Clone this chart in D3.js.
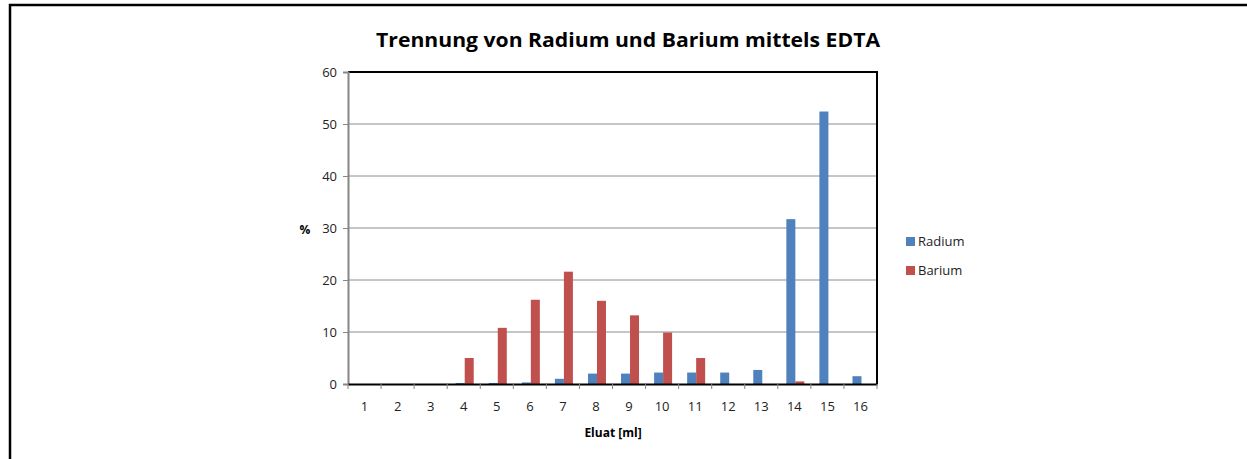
<!DOCTYPE html>
<html>
<head>
<meta charset="utf-8">
<script src="https://cdn.jsdelivr.net/npm/d3@7"></script>
<style>
  body { margin: 0; background: #fff; }
  text { font-family: "Open Sans", "DejaVu Sans", sans-serif; }
</style>
</head>
<body>
<div id="chart"></div>
<script>
// data
var categories = ["1","2","3","4","5","6","7","8","9","10","11","12","13","14","15","16"];
var radium = [0, 0, 0, 0.2, 0.2, 0.3, 1.0, 2.0, 2.0, 2.2, 2.2, 2.2, 2.7, 31.7, 52.4, 1.5];
var barium = [0, 0, 0, 5.0, 10.8, 16.2, 21.6, 16.0, 13.2, 9.9, 5.0, 0, 0, 0.5, 0, 0];
var seriesNames = ["Radium", "Barium"];
var seriesColors = ["#4F81BD", "#C0504D"];
var yTicks = [0, 10, 20, 30, 40, 50, 60];

var width = 1247, height = 459;
var plot = {left: 348, top: 72, right: 877, bottom: 384};

var svg = d3.select("#chart")
  .append("svg")
  .attr("width", width)
  .attr("height", height)

// outer frame
svg.append("rect")
  .attr("x", 10).attr("y", 5)
  .attr("width", 1240).attr("height", 470)
  .attr("fill", "none")
  .attr("stroke", "#000")
  .attr("stroke-width", 2.5)

svg.append("text")
  .attr("x", 628).attr("y", 47)
  .attr("text-anchor", "middle")
  .attr("font-size", 20)
  .attr("font-weight", "bold")
  .attr("textLength", 504)
  .attr("lengthAdjust", "spacingAndGlyphs")
  .text("Trennung von Radium und Barium mittels EDTA")

var x = d3.scaleBand()
  .domain(categories)
  .range([plot.left, plot.right])

var x1 = d3.scaleBand()
  .domain(seriesNames)
  .range([0, 18])

var y = d3.scaleLinear()
  .domain([0, 60])
  .range([plot.bottom, plot.top])

// gridlines
svg.append("g")
  .selectAll("line")
  .data(yTicks.filter(function(d){ return d > 0 && d < 60 }))
  .enter().append("line")
    .attr("x1", plot.left).attr("x2", plot.right)
    .attr("y1", function(d){ return y(d) }).attr("y2", function(d){ return y(d) })
    .attr("stroke", "#8c8c8c")
    .attr("stroke-width", 1)

// plot frame top and right
svg.append("path")
  .attr("d", "M" + plot.left + "," + plot.top + "H" + plot.right + "V" + plot.bottom)
  .attr("fill", "none")
  .attr("stroke", "#000")
  .attr("stroke-width", 2)

// bars
var data = categories.map(function(c, i){
  return {cat: c, values: [{s: "Radium", v: radium[i]}, {s: "Barium", v: barium[i]}]}
})

var groups = svg.append("g")
  .selectAll("g")
  .data(data)
  .enter().append("g")
    .attr("transform", function(d){ return "translate(" + (x(d.cat) + x.bandwidth() / 2 - 9 + 1) + ",0)" })

groups.selectAll("rect")
  .data(function(d){ return d.values })
  .enter().append("rect")
    .attr("x", function(d){ return x1(d.s) })
    .attr("width", x1.bandwidth())
    .attr("y", function(d){ return y(d.v) })
    .attr("height", function(d){ return y(0) - y(d.v) })
    .attr("fill", function(d, i){ return seriesColors[i] })

// y axis
var yAxis = svg.append("g")
  .attr("transform", "translate(" + plot.left + ",0)")
  .call(d3.axisLeft(y).tickValues(yTicks).tickSize(5).tickPadding(6))
yAxis.select(".domain").attr("stroke", "#868686").attr("stroke-width", 2)
yAxis.selectAll(".tick line").attr("stroke", "#868686")
yAxis.selectAll("text").attr("font-size", 13).attr("fill", "#222")
  .attr("font-family", "Open Sans, sans-serif")

// x axis
var xAxis = svg.append("g")
  .attr("transform", "translate(0," + plot.bottom + ")")
  .call(d3.axisBottom(x).tickSize(0).tickPadding(18))
xAxis.select(".domain").attr("stroke", "#000").attr("stroke-width", 2)
xAxis.selectAll("text").attr("font-size", 13).attr("fill", "#222")
  .attr("font-family", "Open Sans, sans-serif")

// x ticks at category boundaries
svg.append("g")
  .selectAll("line")
  .data(d3.range(categories.length + 1))
  .enter().append("line")
    .attr("x1", function(i){ return plot.left + i * x.step() })
    .attr("x2", function(i){ return plot.left + i * x.step() })
    .attr("y1", plot.bottom).attr("y2", plot.bottom + 5)
    .attr("stroke", "#868686")

svg.append("text")
  .attr("x", 613).attr("y", 437)
  .attr("text-anchor", "middle")
  .attr("font-size", 12)
  .attr("font-weight", "bold")
  .text("Eluat [ml]")

svg.append("text")
  .attr("x", 305).attr("y", 234)
  .attr("text-anchor", "middle")
  .attr("font-size", 12)
  .attr("font-weight", "bold")
  .text("%")

// legend
var legend = svg.append("g")
  .selectAll("g")
  .data(seriesNames)
  .enter().append("g")
    .attr("transform", function(d, i){ return "translate(906," + (237 + i * 29) + ")" })

legend.append("rect")
  .attr("width", 9).attr("height", 9)
  .attr("fill", function(d, i){ return seriesColors[i] })

legend.append("text")
  .attr("x", 12).attr("y", 9)
  .attr("font-size", 13)
  .attr("fill", "#222")
  .text(function(d){ return d })
</script>
</body>
</html>
